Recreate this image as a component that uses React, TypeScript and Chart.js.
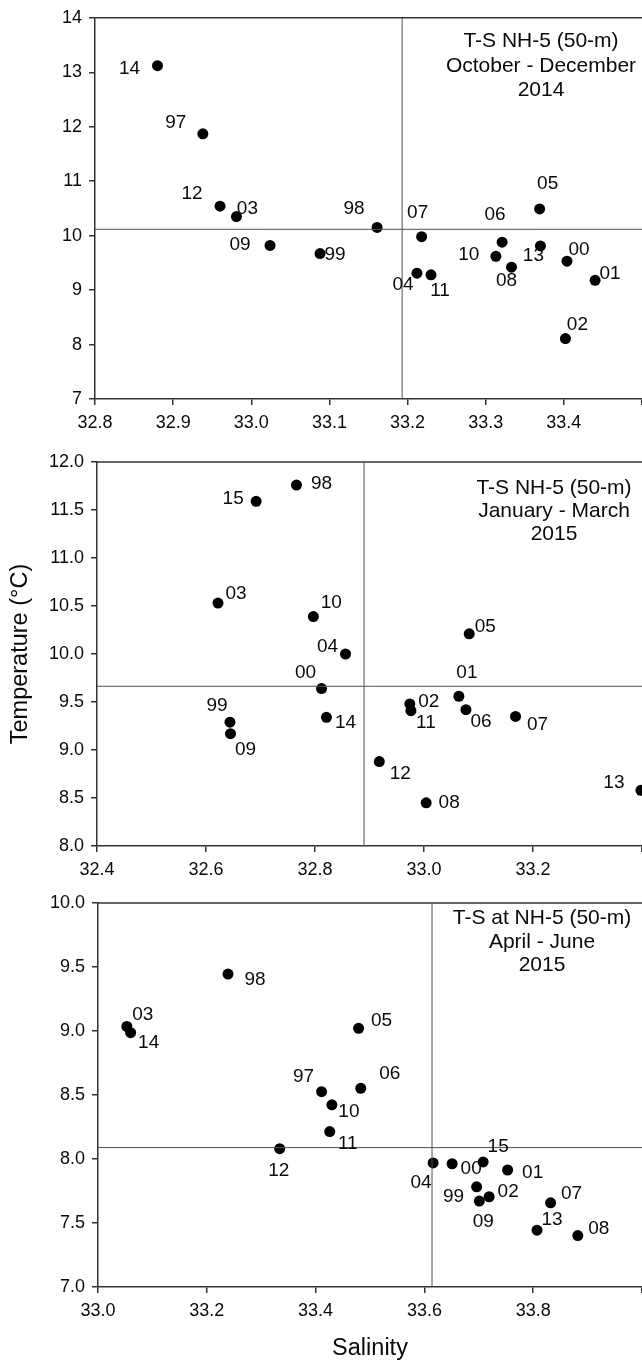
import { useEffect, useRef } from "react";
import { Chart, registerables } from "chart.js";

Chart.register(...registerables);

const FONT = "'Liberation Sans', Arial, Helvetica, sans-serif";
const INK = "#0a0a0a";
const AXIS = "#333333";
const REF_LINE = "#505050";

// ---- October - December 2014 ----
const octYears = ["14", "97", "12", "03", "98", "07", "09", "99", "05", "06", "13", "10", "08", "00", "01", "04", "11", "02"];
const octSalinity = [32.880, 32.938, 32.960, 32.981, 33.161, 33.218, 33.024, 33.088, 33.369, 33.321, 33.370, 33.313, 33.333, 33.404, 33.440, 33.212, 33.230, 33.402];
const octTemperature = [13.12, 11.87, 10.54, 10.35, 10.15, 9.98, 9.82, 9.67, 10.49, 9.88, 9.81, 9.62, 9.42, 9.53, 9.18, 9.31, 9.28, 8.11];
const octMeanSalinity = 33.193;
const octMeanTemperature = 10.116;
const octTitle = ["T-S NH-5 (50-m)", "October - December", "2014"];

// ---- January - March 2015 ----
const janYears = ["98", "15", "03", "10", "05", "04", "00", "99", "09", "14", "02", "11", "01", "06", "07", "12", "08", "13"];
const janSalinity = [32.766, 32.692, 32.622, 32.797, 33.083, 32.856, 32.812, 32.644, 32.645, 32.821, 32.974, 32.976, 33.064, 33.077, 33.168, 32.918, 33.004, 33.398];
const janTemperature = [11.76, 11.59, 10.53, 10.39, 10.21, 10.00, 9.64, 9.29, 9.17, 9.34, 9.48, 9.41, 9.56, 9.42, 9.35, 8.88, 8.45, 8.58];
const janMeanSalinity = 32.89;
const janMeanTemperature = 9.664;
const janTitle = ["T-S NH-5 (50-m)", "January - March", "2015"];

// ---- April - June 2015 ----
const aprYears = ["98", "03", "14", "05", "97", "06", "10", "11", "12", "04", "00", "15", "01", "99", "02", "09", "07", "13", "08"];
const aprSalinity = [33.239, 33.053, 33.060, 33.479, 33.411, 33.483, 33.430, 33.426, 33.334, 33.616, 33.651, 33.708, 33.753, 33.696, 33.719, 33.701, 33.832, 33.807, 33.882];
const aprTemperature = [9.445, 9.036, 8.987, 9.021, 8.526, 8.552, 8.423, 8.214, 8.081, 7.969, 7.963, 7.977, 7.914, 7.783, 7.705, 7.671, 7.658, 7.444, 7.402];
const aprMeanSalinity = 33.614;
const aprMeanTemperature = 8.089;
const aprTitle = ["T-S at NH-5 (50-m)", "April - June", "2015"];

// Year-label placement relative to each dot (px)
const octLabelDx = [-28, -27, -28, 11, -23, -4, -30, 15, 8, -7, -7, -27, -5, 12, 15, -14, 9, 12];
const octLabelDy = [3, -11, -12, -8, -19, -24, -1, 1, -25, -27, 10, -2, 14, -11, -7, 12, 16, -14];
const janLabelDx = [25, -23, 18, 18, 16, -18, -16, -13, 15, 19, 19, 15, 8, 15, 22, 21, 23, -27];
const janLabelDy = [-1, -3, -9, -14, -7, -7, -16, -16, 16, 5, -2, 12, -23, 12, 8, 12, 0, -8];
const aprLabelDx = [27, 16, 18, 23, -18, 29, 17, 18, -1, -12, 19, 15, 25, -23, 19, 4, 21, 15, 21];
const aprLabelDy = [6, -12, 10, -8, -15, -15, 7, 12, 22, 20, 5, -15, 3, 10, -5, 21, -9, -10, -7];

type PanelSpec = {
  top: number;
  height: number;
  padTop: number;
  yAxisWidth: number;
  xAxisHeight: number;
  xMin: number;
  xMax: number;
  xStep: number;
  yMin: number;
  yMax: number;
  yStep: number;
  yDecimals: number;
  years: string[];
  salinity: number[];
  temperature: number[];
  labelDx: number[];
  labelDy: number[];
  meanSalinity: number;
  meanTemperature: number;
  title: string[];
  titleCenterX: number;
  titleLineY: number[];
  yTitle?: string;
  xTitle?: string;
};

const W = 642;

const panels: PanelSpec[] = [
  {
    top: 0, height: 435, padTop: 15, yAxisWidth: 95, xAxisHeight: 36,
    xMin: 32.8, xMax: 33.5, xStep: 0.1, yMin: 7, yMax: 14, yStep: 1, yDecimals: 0,
    years: octYears, salinity: octSalinity, temperature: octTemperature,
    labelDx: octLabelDx, labelDy: octLabelDy,
    meanSalinity: octMeanSalinity, meanTemperature: octMeanTemperature,
    title: octTitle, titleCenterX: 541, titleLineY: [23, 48, 72],
  },
  {
    top: 435, height: 447, padTop: 27, yAxisWidth: 97, xAxisHeight: 36,
    xMin: 32.4, xMax: 33.4, xStep: 0.2, yMin: 8, yMax: 12, yStep: 0.5, yDecimals: 1,
    years: janYears, salinity: janSalinity, temperature: janTemperature,
    labelDx: janLabelDx, labelDy: janLabelDy,
    meanSalinity: janMeanSalinity, meanTemperature: janMeanTemperature,
    title: janTitle, titleCenterX: 554, titleLineY: [26, 49, 72],
    yTitle: "Temperature (°C)",
  },
  {
    top: 882, height: 481, padTop: 21, yAxisWidth: 98, xAxisHeight: 76,
    xMin: 33.0, xMax: 34.0, xStep: 0.2, yMin: 7, yMax: 10, yStep: 0.5, yDecimals: 1,
    years: aprYears, salinity: aprSalinity, temperature: aprTemperature,
    labelDx: aprLabelDx, labelDy: aprLabelDy,
    meanSalinity: aprMeanSalinity, meanTemperature: aprMeanTemperature,
    title: aprTitle, titleCenterX: 542, titleLineY: [15, 39, 62],
    xTitle: "Salinity",
  },
];

function TSPanel({ spec }: { spec: PanelSpec }) {
  const ref = useRef<HTMLCanvasElement | null>(null);

  useEffect(() => {
    const canvas = ref.current;
    if (!canvas) return;

    const points = spec.salinity.map((s, i) => ({ x: s, y: spec.temperature[i] }));

    const annotate = {
      id: "tsAnnotate",
      afterDatasetsDraw(chart: any) {
        const { ctx, chartArea } = chart;
        ctx.save();
        // top frame line
        ctx.strokeStyle = AXIS;
        ctx.lineWidth = 1.5;
        ctx.beginPath();
        ctx.moveTo(chartArea.left - 0.75, chartArea.top);
        ctx.lineTo(chartArea.right, chartArea.top);
        ctx.stroke();

        // year labels beside each dot
        ctx.fillStyle = INK;
        ctx.font = `19px ${FONT}`;
        ctx.textAlign = "center";
        ctx.textBaseline = "middle";
        const meta = chart.getDatasetMeta(2);
        meta.data.forEach((el: any, i: number) => {
          ctx.fillText(spec.years[i], el.x + spec.labelDx[i], el.y + spec.labelDy[i]);
        });

        // panel caption
        ctx.font = `21px ${FONT}`;
        spec.title.forEach((line, i) => {
          ctx.fillText(line, spec.titleCenterX, chartArea.top + spec.titleLineY[i]);
        });
        ctx.restore();
      },
    };

    const tickFmt = (decimals: number, max: number, step: number) => (value: any) => {
      const v = Number(value);
      if (v > max - step / 2) return "";
      return v.toFixed(decimals);
    };

    const chart = new Chart(canvas, {
      type: "scatter",
      data: {
        datasets: [
          {
            data: [
              { x: spec.xMin, y: spec.meanTemperature },
              { x: spec.xMax, y: spec.meanTemperature },
            ],
            showLine: true,
            borderColor: REF_LINE,
            borderWidth: 1,
            pointRadius: 0,
          },
          {
            data: [
              { x: spec.meanSalinity, y: spec.yMin },
              { x: spec.meanSalinity, y: spec.yMax },
            ],
            showLine: true,
            borderColor: REF_LINE,
            borderWidth: 1,
            pointRadius: 0,
          },
          {
            data: points,
            pointRadius: 5.5,
            pointBackgroundColor: "#000000",
            pointBorderWidth: 0,
            borderWidth: 0,
          },
        ],
      },
      options: {
        animation: false,
        responsive: false,
        devicePixelRatio: 1,
        events: [],
        layout: {
          autoPadding: false,
          padding: { top: spec.padTop, left: 0, right: 0, bottom: 0 },
        },
        plugins: {
          legend: { display: false },
          tooltip: { enabled: false },
        },
        scales: {
          x: {
            type: "linear",
            min: spec.xMin,
            max: spec.xMax,
            afterFit: (s: any) => {
              s.height = spec.xAxisHeight;
              s.paddingLeft = 0;
              s.paddingRight = 0;
            },
            grid: {
              display: true,
              drawOnChartArea: false,
              drawTicks: true,
              tickLength: 6,
              color: AXIS,
              lineWidth: 1.5,
            },
            border: { display: true, color: AXIS, width: 1.5 },
            ticks: {
              stepSize: spec.xStep,
              autoSkip: false,
              maxRotation: 0,
              minRotation: 0,
              padding: 7,
              color: INK,
              font: { family: FONT, size: 18 },
              callback: tickFmt(1, spec.xMax, spec.xStep),
            },
            title: spec.xTitle
              ? {
                  display: true,
                  text: spec.xTitle,
                  color: INK,
                  font: { family: FONT, size: 23.5 },
                  padding: { top: 0, bottom: 0 },
                }
              : { display: false },
          },
          y: {
            type: "linear",
            min: spec.yMin,
            max: spec.yMax,
            afterFit: (s: any) => {
              s.width = spec.yAxisWidth;
            },
            grid: {
              display: true,
              drawOnChartArea: false,
              drawTicks: true,
              tickLength: 6,
              color: AXIS,
              lineWidth: 1.5,
            },
            border: { display: true, color: AXIS, width: 1.5 },
            ticks: {
              stepSize: spec.yStep,
              autoSkip: false,
              padding: 7,
              color: INK,
              font: { family: FONT, size: 18 },
              callback: (value: any) => Number(value).toFixed(spec.yDecimals),
            },
            title: spec.yTitle
              ? {
                  display: true,
                  text: spec.yTitle,
                  color: INK,
                  font: { family: FONT, size: 23.5 },
                  padding: { top: 6, bottom: 0 },
                }
              : { display: false },
          },
        },
      },
      plugins: [annotate],
    } as any);

    return () => chart.destroy();
  }, [spec]);

  return (
    <canvas
      ref={ref}
      width={W}
      height={spec.height}
      style={{ position: "absolute", left: 0, top: spec.top, width: W, height: spec.height, display: "block" }}
    />
  );
}

export default function App() {
  return (
    <div
      style={{
        position: "absolute",
        left: 0,
        top: 0,
        width: W,
        height: 1363,
        overflow: "hidden",
        background: "#ffffff",
      }}
    >
      {panels.map((p, i) => (
        <TSPanel key={i} spec={p} />
      ))}
    </div>
  );
}
